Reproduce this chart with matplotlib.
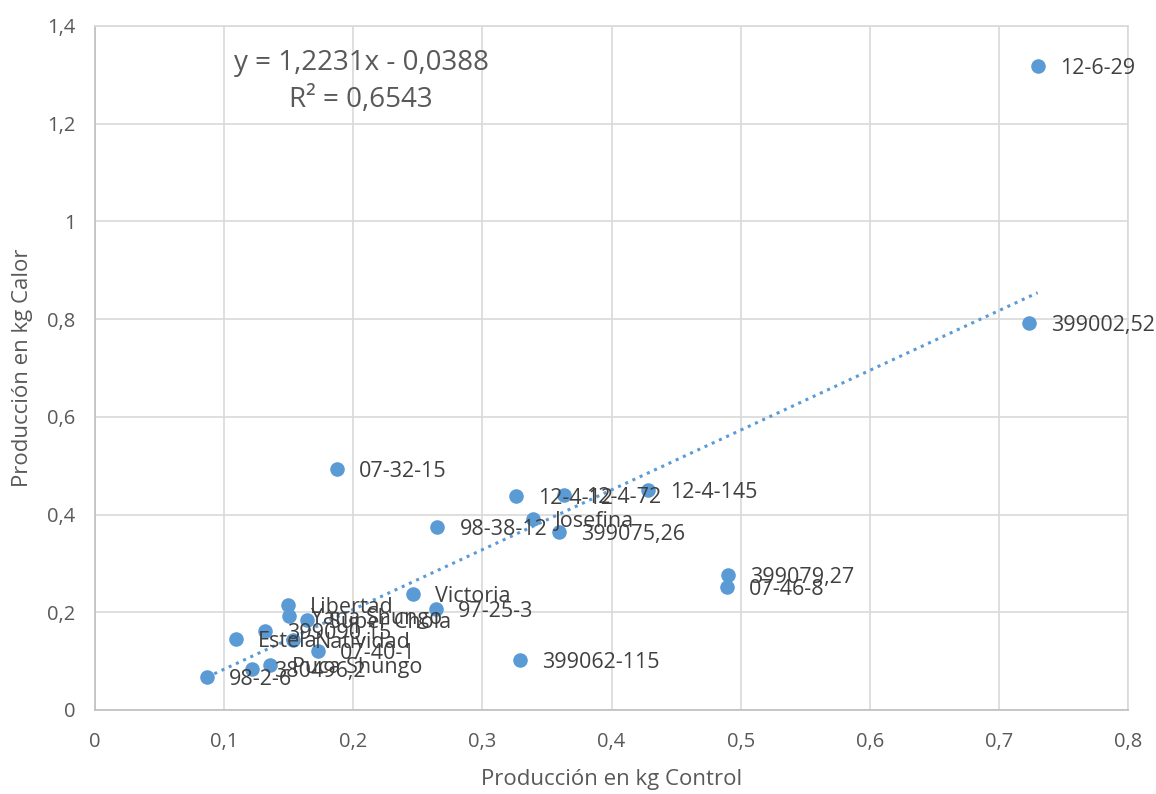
import matplotlib
matplotlib.use("Agg")
import matplotlib.pyplot as plt
from matplotlib.ticker import FuncFormatter, MultipleLocator
import numpy as np

plt.rcParams['font.family'] = ['Open Sans', 'DejaVu Sans']

labels = ["12-6-29", "399002,52", "07-32-15", "12-4-12", "12-4-72", "12-4-145",
          "Josefina", "399075,26", "98-38-12", "399079,27", "07-46-8", "Victoria",
          "97-25-3", "399062-115", "Libertad", "Yana Shungo", "Super Chola",
          "399090,15", "Estela", "Natividad", "07-40-1", "Puca Shungo",
          "380496,2", "98-2-6"]
x_control = [0.730, 0.723, 0.1875, 0.326, 0.363, 0.428,
             0.339, 0.359, 0.265, 0.490, 0.4895, 0.246,
             0.264, 0.329, 0.1495, 0.150, 0.164,
             0.1317, 0.109, 0.153, 0.1727, 0.1356,
             0.1216, 0.0868]
y_calor = [1.318, 0.792, 0.493, 0.438, 0.440, 0.450,
           0.391, 0.364, 0.375, 0.276, 0.252, 0.237,
           0.207, 0.102, 0.215, 0.192, 0.184,
           0.162, 0.145, 0.143, 0.121, 0.092,
           0.084, 0.068]
slope = 1.2231
intercept = -0.0388

fig = plt.figure(figsize=(11.56, 7.94), dpi=100)
ax = fig.add_axes([0.0822, 0.1058, 0.8936, 0.8615])

ax.set_xlim(0, 0.8)
ax.set_ylim(0, 1.4)
ax.xaxis.set_major_locator(MultipleLocator(0.1))
ax.yaxis.set_major_locator(MultipleLocator(0.2))

def fmt(v, pos):
    s = ("%.1f" % v)
    if s.endswith(".0"):
        s = s[:-2]
    return s.replace(".", ",")

ax.xaxis.set_major_formatter(FuncFormatter(fmt))
ax.yaxis.set_major_formatter(FuncFormatter(fmt))

ax.grid(True, color="#d9d9d9", linewidth=1.2)
ax.set_axisbelow(True)
for side in ["top", "right"]:
    ax.spines[side].set_color("#d9d9d9")
    ax.spines[side].set_linewidth(1.2)
for side in ["bottom", "left"]:
    ax.spines[side].set_color("#bfbfbf")
    ax.spines[side].set_linewidth(1.2)
ax.tick_params(length=0, labelsize=14.5, colors="#595959")
ax.tick_params(axis="x", pad=16)
ax.tick_params(axis="y", pad=14)

xs = np.array(x_control)
xl = np.array([xs.min(), xs.max()])
ax.plot(xl, slope * xl + intercept, linestyle=(0, (1, 1.6)), color="#5B9BD5",
        linewidth=2.2, zorder=2)

ax.scatter(x_control, y_calor, s=110, color="#5B9BD5", zorder=3, linewidths=0)

for lab, xv, yv in zip(labels, x_control, y_calor):
    ax.annotate(lab, (xv, yv), xytext=(16, -2), textcoords="offset points",
                fontsize=15.5, color="#404040", va="center", ha="left", zorder=4)

ax.text(0.206, 1.325, "y = 1,2231x - 0,0388", fontsize=20, color="#595959",
        ha="center", va="center")
ax.text(0.206, 1.248, "R² = 0,6543", fontsize=20, color="#595959",
        ha="center", va="center")

ax.set_xlabel("Producción en kg Control", fontsize=16, color="#595959", labelpad=12)
ax.set_ylabel("Producción en kg Calor", fontsize=16, color="#595959", labelpad=10)

fig.savefig("out.png", dpi=100)
